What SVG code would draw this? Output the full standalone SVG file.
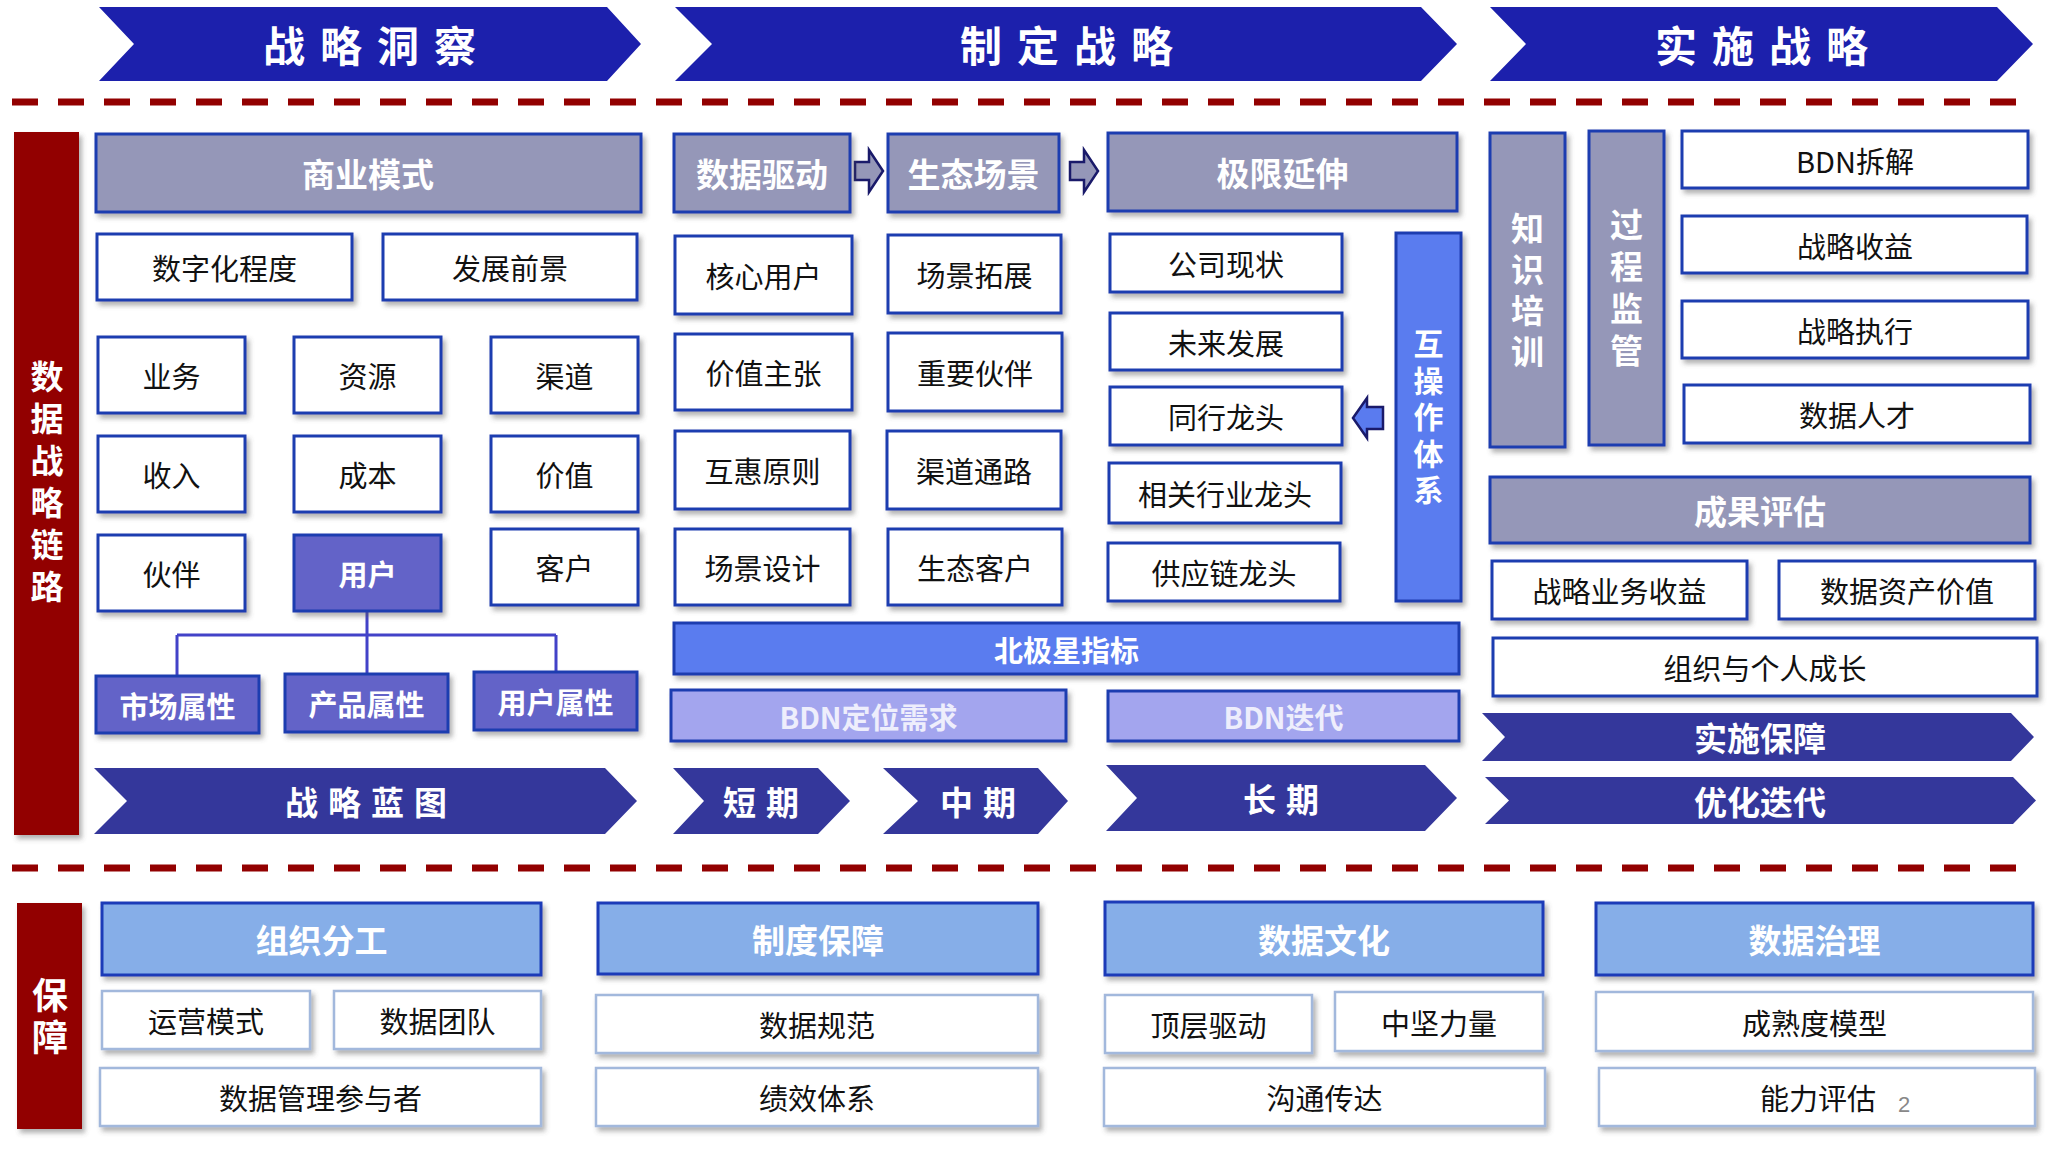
<svg xmlns="http://www.w3.org/2000/svg" width="2071" height="1157" viewBox="0 0 2071 1157">
<defs>
<filter id="sh" x="-10%" y="-10%" width="125%" height="140%">
<feDropShadow dx="3" dy="4" stdDeviation="2.5" flood-color="#555" flood-opacity="0.45"/>
</filter>
<style>
.hdr{fill:#9597b8;stroke:#1f3cb0;stroke-width:3;filter:url(#sh)}
.box{fill:#fff;stroke:#1f3cb0;stroke-width:3;filter:url(#sh)}
.ubox{fill:#6363c8;stroke:#1f3cb0;stroke-width:3;filter:url(#sh)}
.nstar{fill:#5a7bef;stroke:#1f3cb0;stroke-width:3;filter:url(#sh)}
.bdn{fill:#a3a5ee;stroke:#1f3cb0;stroke-width:3;filter:url(#sh)}
.bhdr{fill:#86aee8;stroke:#1a3ab8;stroke-width:3;filter:url(#sh)}
.bbox{fill:#fff;stroke:#a2b8dc;stroke-width:2.5;filter:url(#sh)}
.red{fill:#920000;filter:url(#sh)}
.ctop{fill:#1c20ac}
.chev{fill:#34379b}
.dash{stroke:#920000;stroke-width:7;stroke-dasharray:26 20;fill:none}
text{font-family:"Noto Sans CJK SC","Noto Sans",sans-serif;text-anchor:middle;dominant-baseline:central}
.t{font-size:29px;fill:#111}
.tw{font-size:33px;fill:#fff;font-weight:bold}
.ts{font-size:29px;fill:#fff;font-weight:bold}
.tl{font-size:29px;fill:#eeeefc;font-weight:bold}
.tt{font-size:42px;fill:#fff;font-weight:bold;letter-spacing:15px}
.tc{font-size:33px;fill:#fff;font-weight:bold;letter-spacing:10px}
.vt{fill:#fff;font-weight:bold;writing-mode:vertical-rl}
.conn{stroke:#4242c8;stroke-width:3;fill:none}
.barr{fill:#9597b8;stroke:#1a1a6a;stroke-width:2.5}
.larr{fill:#5a7bef;stroke:#1a1a6a;stroke-width:2.5}
</style>
</defs>
<rect width="2071" height="1157" fill="#fff"/>

<!-- top phase chevrons -->
<g id="phase-insight">
<polygon class="ctop" points="99,7 607,7 641,44 607,81 99,81 134,44"/>
<text class="tt" x="377" y="43">战略洞察</text>
</g>
<g id="phase-define">
<polygon class="ctop" points="675,7 1421,7 1457,44 1421,81 675,81 712,44"/>
<text class="tt" x="1074" y="43">制定战略</text>
</g>
<g id="phase-implement">
<polygon class="ctop" points="1490,7 1997,7 2033,44 1997,81 1490,81 1526,44"/>
<text class="tt" x="1769" y="43">实施战略</text>
</g>

<line class="dash" x1="12" y1="102" x2="2030" y2="102"/>
<line class="dash" x1="12" y1="868" x2="2030" y2="868"/>

<!-- left red bars -->
<g id="chain-label">
<rect class="red" x="14" y="132" width="65" height="703"/>
<text class="vt" x="47" y="486" style="font-size:33px;letter-spacing:9px">数据战略链路</text>
</g>
<g id="guarantee-label">
<rect class="red" x="17" y="903" width="65" height="226"/>
<text class="vt" x="50" y="1019" style="font-size:36px;letter-spacing:6px">保障</text>
</g>

<!-- connectors -->
<g id="connectors">
<path class="conn" d="M367,611 V635 M177,635 H556 M177,635 V676 M367,635 V674 M556,635 V672"/>
<polygon class="barr" points="855,162 869,162 869,150 883,171 869,192 869,180 855,180"/>
<polygon class="barr" points="1070,162 1084,162 1084,150 1098,171 1084,192 1084,180 1070,180"/>
<polygon class="larr" points="1353,418 1367,398 1367,407 1383,407 1383,429 1367,429 1367,438"/>
</g>

<!-- 战略洞察 column -->
<g id="biz-model"><rect class="hdr" x="96" y="134" width="545" height="78"/><text class="tw" x="368" y="173">商业模式</text></g>
<g id="digital-degree"><rect class="box" x="97" y="234" width="255" height="66"/><text class="t" x="224.5" y="267">数字化程度</text></g>
<g id="prospect"><rect class="box" x="383" y="234" width="254" height="66"/><text class="t" x="510" y="267">发展前景</text></g>
<g id="business"><rect class="box" x="98" y="337" width="147" height="76"/><text class="t" x="171.5" y="375">业务</text></g>
<g id="resource"><rect class="box" x="294" y="337" width="147" height="76"/><text class="t" x="367.5" y="375">资源</text></g>
<g id="channel"><rect class="box" x="491" y="337" width="147" height="76"/><text class="t" x="564.5" y="375">渠道</text></g>
<g id="income"><rect class="box" x="98" y="436" width="147" height="76"/><text class="t" x="171.5" y="474">收入</text></g>
<g id="cost"><rect class="box" x="294" y="436" width="147" height="76"/><text class="t" x="367.5" y="474">成本</text></g>
<g id="value"><rect class="box" x="491" y="436" width="147" height="76"/><text class="t" x="564.5" y="474">价值</text></g>
<g id="partner"><rect class="box" x="98" y="535" width="147" height="76"/><text class="t" x="171.5" y="573">伙伴</text></g>
<g id="user"><rect class="ubox" x="294" y="535" width="147" height="76"/><text class="ts" x="367.5" y="573">用户</text></g>
<g id="customer"><rect class="box" x="491" y="529" width="147" height="76"/><text class="t" x="564.5" y="567">客户</text></g>
<g id="market-attr"><rect class="ubox" x="96" y="676" width="163" height="57"/><text class="ts" x="177.5" y="704.5">市场属性</text></g>
<g id="product-attr"><rect class="ubox" x="285" y="674" width="163" height="58"/><text class="ts" x="366.5" y="703">产品属性</text></g>
<g id="user-attr"><rect class="ubox" x="474" y="672" width="163" height="58"/><text class="ts" x="555.5" y="701">用户属性</text></g>
<g id="blueprint">
<polygon class="chev" points="94,768 605,768 637,801 605,834 94,834 127,801"/>
<text class="tc" x="371" y="801">战略蓝图</text>
</g>

<!-- 制定战略 column -->
<g id="data-driven"><rect class="hdr" x="674" y="134" width="176" height="78"/><text class="tw" x="762" y="173">数据驱动</text></g>
<g id="eco-scene"><rect class="hdr" x="888" y="134" width="171" height="78"/><text class="tw" x="973.5" y="173">生态场景</text></g>
<g id="limit-ext"><rect class="hdr" x="1108" y="133" width="349" height="78"/><text class="tw" x="1282.5" y="172">极限延伸</text></g>
<g id="core-user"><rect class="box" x="675" y="236" width="177" height="78"/><text class="t" x="763.5" y="275">核心用户</text></g>
<g id="scene-expand"><rect class="box" x="888" y="235" width="173" height="78"/><text class="t" x="974.5" y="274">场景拓展</text></g>
<g id="value-prop"><rect class="box" x="675" y="334" width="177" height="76"/><text class="t" x="763.5" y="372">价值主张</text></g>
<g id="key-partner"><rect class="box" x="888" y="333" width="174" height="78"/><text class="t" x="975" y="372">重要伙伴</text></g>
<g id="reciprocity"><rect class="box" x="675" y="431" width="175" height="78"/><text class="t" x="762.5" y="470">互惠原则</text></g>
<g id="channel-path"><rect class="box" x="887" y="431" width="174" height="78"/><text class="t" x="974" y="470">渠道通路</text></g>
<g id="scene-design"><rect class="box" x="675" y="529" width="175" height="76"/><text class="t" x="762.5" y="567">场景设计</text></g>
<g id="eco-customer"><rect class="box" x="888" y="529" width="174" height="76"/><text class="t" x="975" y="567">生态客户</text></g>
<g id="company-status"><rect class="box" x="1110" y="234" width="232" height="58"/><text class="t" x="1226" y="263">公司现状</text></g>
<g id="future-dev"><rect class="box" x="1110" y="313" width="232" height="57"/><text class="t" x="1226" y="341.5">未来发展</text></g>
<g id="peer-leader"><rect class="box" x="1110" y="387" width="232" height="58"/><text class="t" x="1226" y="416">同行龙头</text></g>
<g id="related-leader"><rect class="box" x="1109" y="463" width="232" height="60"/><text class="t" x="1225" y="493">相关行业龙头</text></g>
<g id="supply-leader"><rect class="box" x="1108" y="543" width="232" height="58"/><text class="t" x="1224" y="572">供应链龙头</text></g>
<g id="interop">
<rect class="nstar" x="1396" y="233" width="65" height="368"/>
<text class="vt" x="1428.5" y="420" style="font-size:30px;letter-spacing:6.5px">互操作体系</text>
</g>
<g id="north-star"><rect class="nstar" x="674" y="623" width="785" height="51"/><text class="ts" x="1066.5" y="648.5">北极星指标</text></g>
<g id="bdn-position"><rect class="bdn" x="671" y="690" width="395" height="51"/><text class="tl" x="868.5" y="715.5">BDN定位需求</text></g>
<g id="bdn-iterate"><rect class="bdn" x="1108" y="691" width="351" height="50"/><text class="tl" x="1283.5" y="716">BDN迭代</text></g>
<g id="short-term">
<polygon class="chev" points="673,768 818,768 850,801 818,834 673,834 704,801"/>
<text class="tc" x="766" y="801">短期</text>
</g>
<g id="mid-term">
<polygon class="chev" points="883,768 1038,768 1068,801 1038,834 883,834 918,801"/>
<text class="tc" x="983" y="801">中期</text>
</g>
<g id="long-term">
<polygon class="chev" points="1106,765 1425,765 1457,798 1425,831 1106,831 1137,798"/>
<text class="tc" x="1286" y="798">长期</text>
</g>

<!-- 实施战略 column -->
<g id="knowledge-training">
<rect class="hdr" x="1490" y="133" width="75" height="314"/>
<text class="vt" x="1527.5" y="293.5" style="font-size:33px;letter-spacing:8px">知识培训</text>
</g>
<g id="process-supervision">
<rect class="hdr" x="1589" y="131" width="75" height="314"/>
<text class="vt" x="1626.5" y="291.5" style="font-size:33px;letter-spacing:9px">过程监管</text>
</g>
<g id="bdn-breakdown"><rect class="box" x="1682" y="131" width="346" height="57"/><text class="t" x="1855" y="159.5">BDN拆解</text></g>
<g id="strategy-benefit"><rect class="box" x="1682" y="216" width="345" height="57"/><text class="t" x="1855" y="244.5">战略收益</text></g>
<g id="strategy-exec"><rect class="box" x="1682" y="301" width="346" height="57"/><text class="t" x="1855" y="329.5">战略执行</text></g>
<g id="data-talent"><rect class="box" x="1684" y="385" width="346" height="58"/><text class="t" x="1857" y="414">数据人才</text></g>
<g id="result-eval"><rect class="hdr" x="1490" y="477" width="540" height="66"/><text class="tw" x="1760" y="510">成果评估</text></g>
<g id="biz-benefit"><rect class="box" x="1492" y="561" width="255" height="58"/><text class="t" x="1619.5" y="590">战略业务收益</text></g>
<g id="asset-value"><rect class="box" x="1779" y="561" width="256" height="58"/><text class="t" x="1907" y="590">数据资产价值</text></g>
<g id="growth"><rect class="box" x="1493" y="638" width="544" height="58"/><text class="t" x="1765" y="667">组织与个人成长</text></g>
<g id="impl-guarantee">
<polygon class="chev" points="1482,713 2011,713 2034,737 2011,761 1482,761 1505,737"/>
<text class="tw" x="1760" y="737">实施保障</text>
</g>
<g id="optimize">
<polygon class="chev" points="1485,777 2013,777 2036,800.5 2013,824 1485,824 1509,800.5"/>
<text class="tw" x="1760" y="800.5">优化迭代</text>
</g>

<!-- 保障 row -->
<g id="org-division"><rect class="bhdr" x="102" y="903" width="439" height="72"/><text class="tw" x="321.5" y="939">组织分工</text></g>
<g id="ops-mode"><rect class="bbox" x="102" y="991" width="208" height="58"/><text class="t" x="206" y="1020">运营模式</text></g>
<g id="data-team"><rect class="bbox" x="334" y="991" width="207" height="58"/><text class="t" x="437.5" y="1020">数据团队</text></g>
<g id="participants"><rect class="bbox" x="100" y="1068" width="441" height="58"/><text class="t" x="320.5" y="1097">数据管理参与者</text></g>
<g id="system-guarantee"><rect class="bhdr" x="598" y="903" width="440" height="71"/><text class="tw" x="818" y="938.5">制度保障</text></g>
<g id="data-spec"><rect class="bbox" x="596" y="995" width="442" height="58"/><text class="t" x="817" y="1024">数据规范</text></g>
<g id="performance"><rect class="bbox" x="596" y="1068" width="442" height="58"/><text class="t" x="817" y="1097">绩效体系</text></g>
<g id="data-culture"><rect class="bhdr" x="1105" y="902" width="438" height="73"/><text class="tw" x="1324" y="938.5">数据文化</text></g>
<g id="top-driven"><rect class="bbox" x="1105" y="995" width="207" height="58"/><text class="t" x="1208.5" y="1024">顶层驱动</text></g>
<g id="backbone"><rect class="bbox" x="1335" y="992" width="208" height="59"/><text class="t" x="1439" y="1021.5">中坚力量</text></g>
<g id="communication"><rect class="bbox" x="1104" y="1068" width="441" height="58"/><text class="t" x="1324.5" y="1097">沟通传达</text></g>
<g id="data-governance"><rect class="bhdr" x="1596" y="903" width="437" height="72"/><text class="tw" x="1814.5" y="939">数据治理</text></g>
<g id="maturity"><rect class="bbox" x="1596" y="992" width="437" height="59"/><text class="t" x="1814.5" y="1021.5">成熟度模型</text></g>
<g id="capability"><rect class="bbox" x="1599" y="1068" width="436" height="58"/><text class="t" x="1818" y="1097">能力评估</text>
<text x="1904" y="1104" style="font-family:'Liberation Sans',sans-serif;font-size:22px;fill:#888">2</text></g>
</svg>
